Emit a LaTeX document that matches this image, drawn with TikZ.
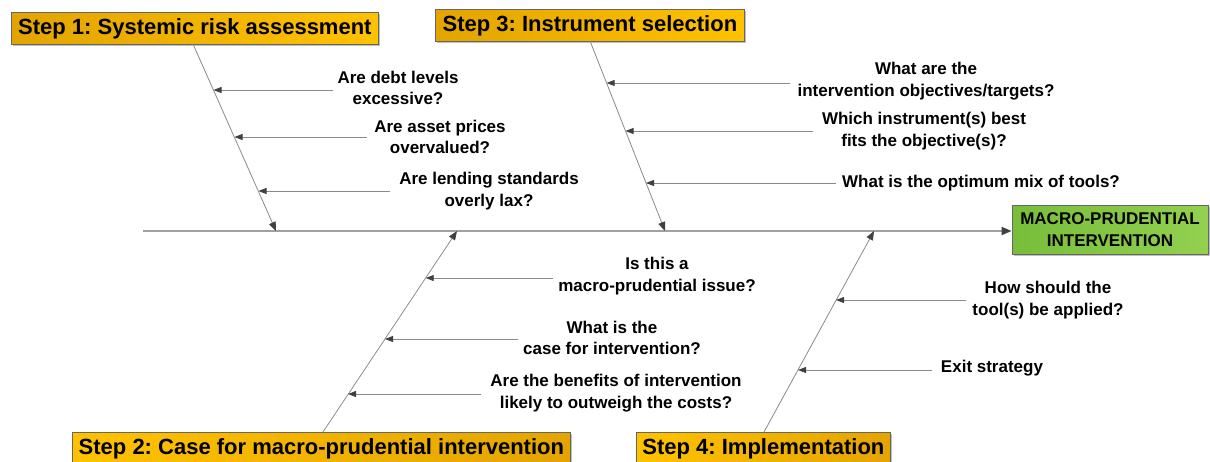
\documentclass[tikz,border=0pt]{standalone}
\usepackage{fontspec}
\setmainfont{Liberation Sans}
\usetikzlibrary{arrows.meta,calc,shadows}
\definecolor{linegray}{HTML}{8A8A8A}
\definecolor{tipgray}{HTML}{404040}
\definecolor{stepdark}{HTML}{E3A400}
\definecolor{steplight}{HTML}{FFC200}
\definecolor{greenA}{HTML}{78BE3A}
\definecolor{greenB}{HTML}{92D050}
\begin{document}
\frenchspacing
\begin{tikzpicture}[x=1pt,y=-1pt,
  stepbox/.style={draw=gray!80!black, line width=0.8pt, minimum height=32pt, anchor=north west,
    inner sep=0pt, font=\fontsize{22}{26}\selectfont\bfseries\frenchspacing, text=black,
    drop shadow={shadow xshift=2pt, shadow yshift=-2pt, opacity=0.25, fill=black}},
  stepL/.style={stepbox, left color=stepdark, right color=steplight},
  stepR/.style={stepbox, left color=steplight, right color=stepdark},
  goal/.style={draw=gray!80!black, line width=0.8pt, left color=greenA, right color=greenB,
    minimum width=196pt, minimum height=49pt, align=center, inner sep=0pt,
    font=\fontsize{17}{22}\selectfont\bfseries,
    drop shadow={shadow xshift=2pt, shadow yshift=-2pt, opacity=0.25, fill=black}},
  q/.style={align=center, font=\fontsize{17}{21.5}\selectfont\bfseries, inner sep=0pt},
  bone/.style={draw=linegray, line width=0.8pt, -{Triangle[length=9pt,width=7pt,color=tipgray]}},
  sub/.style={draw=linegray, line width=0.9pt, -{Triangle[length=8pt,width=6pt,color=tipgray]}},
  spine/.style={draw=linegray!80, line width=1.8pt, -{Triangle[length=10pt,width=8pt,color=tipgray]}}
]
\clip (0,0) rectangle (1210,461);
\useasboundingbox (0,0) rectangle (1210,461);

% step boxes
\node[stepL, minimum width=367pt] (s1) at (11,12) {Step 1: Systemic risk assessment};
\node[stepL, minimum width=309pt] (s3) at (435,9) {Step 3: Instrument selection};
\node[stepR, minimum width=498pt] (s2) at (72,432) {Step 2: Case for macro-prudential intervention};
\node[stepR, minimum width=254pt] (s4) at (636,432) {Step 4: Implementation};

% goal box
\node[goal] (goal) at (1110,229.5) {MACRO-PRUDENTIAL\\INTERVENTION};

% spine
\coordinate (spinestart) at (143,231);
\draw[spine] (spinestart) -- (spinestart -| goal.west);

% bones
\coordinate (b1a) at (193,44);  \coordinate (b1b) at (276,231);
\coordinate (b3a) at (590,41);  \coordinate (b3b) at (665,231);
\coordinate (b2a) at (323,432); \coordinate (b2b) at (457,231);
\coordinate (b4a) at (764,432); \coordinate (b4b) at (874,231);
\draw[bone] (b1a) -- (b1b);
\draw[bone] (b3a) -- (b3b);
\draw[bone] (b2a) -- (b2b);
\draw[bone] (b4a) -- (b4b);

% questions
\node[q] (q11) at (398,88)  {Are debt levels\\excessive?};
\node[q] (q12) at (440,137) {Are asset prices\\overvalued?};
\node[q] (q13) at (489,191) {Are lending standards\\overly lax?};
\node[q] (q31) at (926,81)  {What are the\\intervention objectives/targets?};
\node[q] (q32) at (924,131) {Which instrument(s) best\\fits the objective(s)?};
\node[q] (q33) at (981,183) {What is the optimum mix of tools?};
\node[q] (q21) at (657,276) {Is this a\\macro-prudential issue?};
\node[q] (q22) at (612,338) {What is the\\case for intervention?};
\node[q] (q23) at (616,393) {Are the benefits of intervention\\likely to outweigh the costs?};
\node[q] (q41) at (1048,300) {How should the\\tool(s) be applied?};
\node[q] (q42) at (992,368) {Exit strategy};

% sub-arrow start points and targets on the bones
\coordinate (a11) at (333,90);  \coordinate (t11) at (213.5,90);
\coordinate (a12) at (367,137); \coordinate (t12) at (234.5,137);
\coordinate (a13) at (390,191); \coordinate (t13) at (258.5,191);
\coordinate (a31) at (790,83);  \coordinate (t31) at (606.6,83);
\coordinate (a32) at (813,131); \coordinate (t32) at (625.5,131);
\coordinate (a33) at (836,183); \coordinate (t33) at (646,183);
\coordinate (a21) at (553,278); \coordinate (t21) at (425.7,278);
\coordinate (a22) at (518,339); \coordinate (t22) at (385,339);
\coordinate (a23) at (481,394); \coordinate (t23) at (348,394);
\coordinate (a41) at (966,300); \coordinate (t41) at (836,300);
\coordinate (a42) at (932,370); \coordinate (t42) at (798,370);
\foreach \i in {11,12,13,31,32,33,21,22,23,41,42}{
  \draw[sub] (a\i) -- (t\i);
}
\end{tikzpicture}
\end{document}
